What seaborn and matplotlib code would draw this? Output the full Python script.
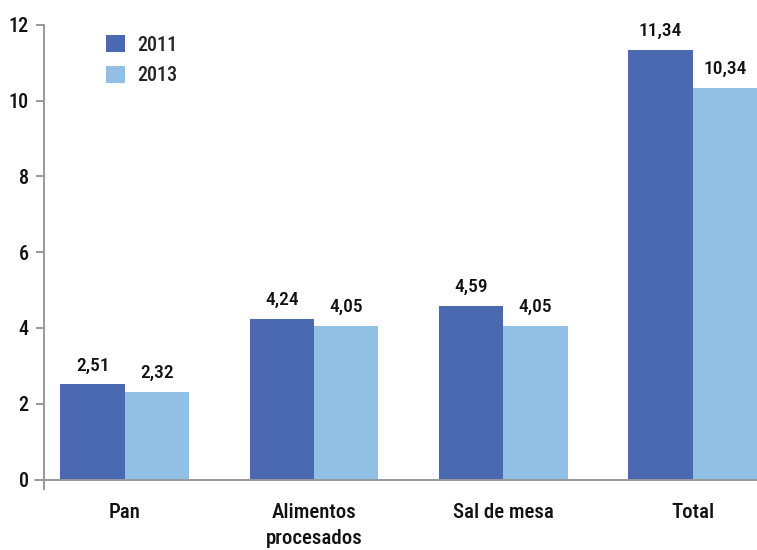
import matplotlib
matplotlib.use("Agg")
import matplotlib.pyplot as plt
import seaborn as sns
import pandas as pd
from matplotlib.lines import Line2D
from matplotlib import font_manager

categories = ["Pan", "Alimentos\nprocesados", "Sal de mesa", "Total"]
years = ["2011", "2013"]
values_2011 = [2.51, 4.24, 4.59, 11.34]
values_2013 = [2.32, 4.05, 4.05, 10.34]
colors = ["#4A69B0", "#91C0E4"]
y_ticks = [0, 2, 4, 6, 8, 10, 12]

sns.set_theme(style="white")
names = {f.name for f in font_manager.fontManager.ttflist}
fam = [f for f in ["Roboto Condensed", "Liberation Sans Narrow", "Liberation Sans"] if f in names] + ["DejaVu Sans"]
plt.rcParams["font.family"] = fam
plt.rcParams["font.weight"] = "medium"

df = pd.DataFrame({
    "cat": categories * 2,
    "year": [years[0]] * 4 + [years[1]] * 4,
    "val": values_2011 + values_2013,
})

fig = plt.figure(figsize=(7.57, 5.5), dpi=100)
ax = fig.add_axes([44 / 757, 61 / 550, 713 / 757, (489 - 24.7) / 550])

sns.barplot(data=df, x="cat", y="val", hue="year", palette=colors,
            width=0.68, gap=0, ax=ax, saturation=1, errorbar=None, legend=True,
            linewidth=0, edgecolor="none")

for cont, vals in zip(ax.containers, [values_2011, values_2013]):
    ax.bar_label(cont, labels=[f"{v:.2f}".replace(".", ",") for v in vals],
                 padding=7, fontsize=14, color="#111111")

ax.set_ylim(-0.25, 12)
ax.set_xlim(-0.427, 3.34)
ax.set_yticks(y_ticks)
ax.set_yticklabels([str(t) for t in y_ticks], fontsize=14.5, color="#111111")
ax.set_xlabel("")
ax.set_ylabel("")
ax.tick_params(axis="y", length=6, width=1.4, color="#999999", pad=5, left=True)
ax.tick_params(axis="x", length=0, pad=10, labelsize=15, labelcolor="#111111")
for t in ax.get_xticklabels():
    t.set_linespacing(1.45)

for s in ["top", "right", "bottom"]:
    ax.spines[s].set_visible(False)
ax.spines["left"].set_color("#999999")
ax.spines["left"].set_linewidth(1.4)
ax.spines["left"].set_bounds(-0.25, 12)

line = Line2D([-0.012, 1.0], [0.25 / 12.25, 0.25 / 12.25], transform=ax.transAxes,
              color="#999999", linewidth=1.4, clip_on=False)
ax.add_line(line)

handles, labels = ax.get_legend_handles_labels()
ax.legend(handles, labels, frameon=False, loc="upper left",
          bbox_to_anchor=(0.087, 0.978), borderpad=0, borderaxespad=0,
          prop={"size": 14.5, "weight": "medium"}, handlelength=0.95, handleheight=0.95,
          handletextpad=0.6, labelspacing=0.55)

fig.savefig("out.png", dpi=100)
